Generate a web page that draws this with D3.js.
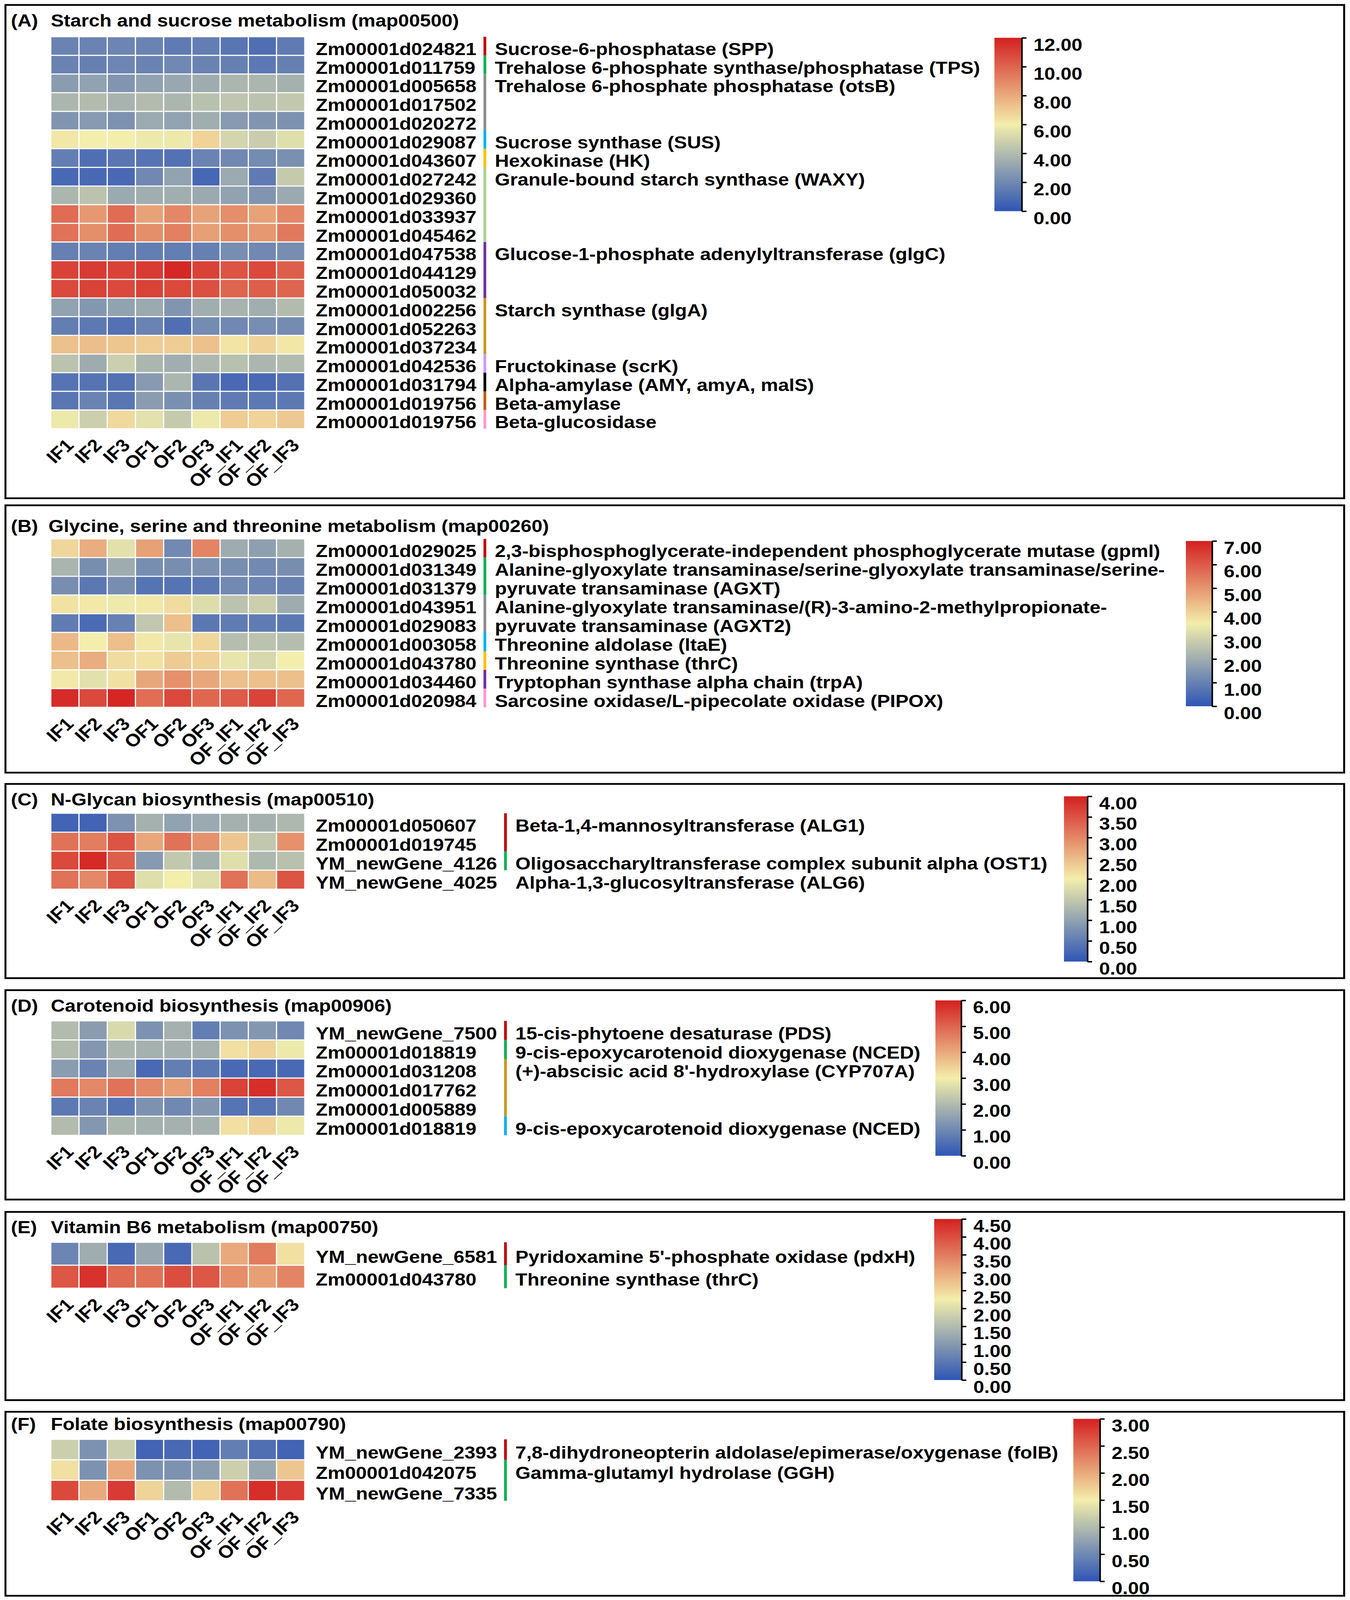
<!DOCTYPE html>
<html>
<head>
<meta charset="utf-8">
<script src="https://cdn.jsdelivr.net/npm/d3@7"></script>
<style>
  html, body { margin: 0; padding: 0; background: #fff; overflow: hidden; }
  svg { display: block; }
  text { font-family: "Liberation Sans", Arial, sans-serif; font-weight: bold; fill: #000; }
</style>
</head>
<body>
<svg id="chart"></svg>
<script>
// sample columns (same for every panel)
const samples = ["IF1", "IF2", "IF3", "OF1", "OF2", "OF3", "OF_IF1", "OF_IF2", "OF_IF3"];

// (A) Starch and sucrose metabolism
const genesA = ["Zm00001d024821", "Zm00001d011759", "Zm00001d005658", "Zm00001d017502", "Zm00001d020272",
  "Zm00001d029087", "Zm00001d043607", "Zm00001d027242", "Zm00001d029360", "Zm00001d033937", "Zm00001d045462",
  "Zm00001d047538", "Zm00001d044129", "Zm00001d050032", "Zm00001d002256", "Zm00001d052263", "Zm00001d037234",
  "Zm00001d042536", "Zm00001d031794", "Zm00001d019756", "Zm00001d019756"];
const valuesA = [
  [1.8, 1.8, 1.9, 1.8, 1.5, 1.6, 1.3, 1.0, 1.5],
  [1.8, 1.7, 1.9, 1.8, 2.0, 1.8, 1.7, 1.4, 1.7],
  [2.8, 3.0, 2.5, 3.0, 3.2, 3.4, 3.8, 3.8, 3.6],
  [3.8, 4.0, 3.7, 4.0, 3.8, 4.2, 4.4, 4.3, 4.5],
  [2.5, 2.7, 2.4, 3.3, 3.0, 3.5, 2.7, 2.5, 2.4],
  [6.2, 6.0, 6.0, 5.8, 5.8, 6.8, 5.0, 4.7, 5.4],
  [1.6, 1.0, 1.3, 1.2, 1.1, 1.8, 2.0, 2.1, 2.3],
  [0.8, 0.8, 0.8, 2.0, 3.0, 0.7, 3.3, 1.5, 4.6],
  [3.8, 4.3, 3.3, 3.5, 3.5, 3.3, 3.0, 2.5, 3.3],
  [9.8, 8.5, 9.8, 8.2, 9.0, 8.2, 8.8, 8.2, 9.0],
  [9.6, 8.8, 9.8, 8.8, 9.2, 8.3, 8.8, 8.5, 9.4],
  [1.7, 1.8, 1.6, 1.6, 1.6, 1.7, 2.2, 2.0, 2.2],
  [11.0, 11.2, 11.0, 11.2, 11.8, 11.0, 10.5, 10.8, 10.2],
  [10.8, 11.0, 10.8, 11.0, 10.8, 10.6, 10.0, 10.2, 10.0],
  [3.0, 2.6, 3.0, 3.3, 2.5, 3.5, 3.7, 3.5, 4.0],
  [1.6, 1.4, 1.1, 1.8, 1.0, 2.1, 2.0, 2.2, 2.1],
  [7.3, 7.4, 7.2, 7.0, 7.0, 7.3, 6.3, 6.8, 6.2],
  [4.3, 3.4, 4.8, 3.8, 3.5, 3.9, 4.2, 3.8, 4.0],
  [1.2, 1.2, 1.1, 2.7, 3.8, 1.3, 0.8, 0.8, 1.1],
  [1.3, 1.8, 1.3, 2.8, 2.3, 1.7, 1.5, 1.4, 1.4],
  [5.8, 4.8, 6.6, 5.5, 4.6, 5.8, 7.0, 6.8, 7.1]
];
const enzymesA = ["Sucrose-6-phosphatase (SPP)", "Trehalose 6-phosphate synthase/phosphatase (TPS)",
  "Trehalose 6-phosphate phosphatase (otsB)", "", "", "Sucrose synthase (SUS)", "Hexokinase (HK)",
  "Granule-bound starch synthase (WAXY)", "", "", "", "Glucose-1-phosphate adenylyltransferase (glgC)", "", "",
  "Starch synthase (glgA)", "", "", "Fructokinase (scrK)", "Alpha-amylase (AMY, amyA, malS)", "Beta-amylase",
  "Beta-glucosidase"];
const groupsA = [1, 1, 3, 1, 1, 4, 3, 3, 1, 1, 1, 1];
const legendA = [0, 2, 4, 6, 8, 10, 12];

// (B) Glycine, serine and threonine metabolism
const genesB = ["Zm00001d029025", "Zm00001d031349", "Zm00001d031379", "Zm00001d043951", "Zm00001d029083",
  "Zm00001d003058", "Zm00001d043780", "Zm00001d034460", "Zm00001d020984"];
const valuesB = [
  [3.9, 4.6, 3.2, 4.8, 1.2, 5.3, 2.0, 1.7, 2.1],
  [2.2, 1.3, 2.0, 1.3, 1.3, 1.4, 1.3, 1.2, 1.3],
  [1.3, 0.8, 1.3, 0.7, 0.7, 0.8, 1.2, 1.1, 1.0],
  [3.7, 3.6, 3.4, 3.6, 3.8, 3.1, 2.5, 2.8, 2.0],
  [0.9, 0.5, 1.0, 2.6, 4.3, 0.8, 0.9, 0.9, 0.8],
  [4.4, 3.5, 4.3, 3.6, 3.3, 3.9, 2.4, 2.5, 2.4],
  [4.3, 4.6, 3.8, 3.7, 4.1, 4.0, 3.3, 3.0, 3.5],
  [3.6, 3.2, 3.7, 4.7, 5.1, 4.7, 4.3, 4.3, 4.3],
  [6.8, 6.3, 6.9, 5.7, 6.3, 5.8, 6.0, 6.4, 5.8]
];
const enzymesB = ["2,3-bisphosphoglycerate-independent phosphoglycerate mutase (gpml)",
  "Alanine-glyoxylate transaminase/serine-glyoxylate transaminase/serine-", "pyruvate transaminase (AGXT)",
  "Alanine-glyoxylate transaminase/(R)-3-amino-2-methylpropionate-", "pyruvate transaminase (AGXT2)",
  "Threonine aldolase (ltaE)", "Threonine synthase (thrC)", "Tryptophan synthase alpha chain (trpA)",
  "Sarcosine oxidase/L-pipecolate oxidase (PIPOX)"];
const groupsB = [1, 2, 2, 1, 1, 1, 1];
const legendB = [0, 1, 2, 3, 4, 5, 6, 7];

// (C) N-Glycan biosynthesis
const genesC = ["Zm00001d050607", "Zm00001d019745", "YM_newGene_4126", "YM_newGene_4025"];
const valuesC = [
  [0.2, 0.2, 0.8, 1.2, 1.0, 1.1, 1.2, 1.2, 1.3],
  [3.2, 3.1, 3.5, 2.7, 3.2, 2.9, 2.4, 1.5, 2.9],
  [3.6, 3.9, 3.4, 0.9, 1.5, 1.2, 1.8, 1.3, 1.4],
  [3.2, 3.0, 3.5, 1.8, 2.0, 1.8, 3.2, 2.5, 3.5]
];
const enzymesC = ["Beta-1,4-mannosyltransferase (ALG1)", "",
  "Oligosaccharyltransferase complex subunit alpha (OST1)", "Alpha-1,3-glucosyltransferase (ALG6)"];
const groupsC = [2, 1];
const legendC = [0, 0.5, 1, 1.5, 2, 2.5, 3, 3.5, 4];

// (D) Carotenoid biosynthesis
const genesD = ["YM_newGene_7500", "Zm00001d018819", "Zm00001d031208", "Zm00001d017762", "Zm00001d005889",
  "Zm00001d018819"];
const valuesD = [
  [2.0, 1.4, 2.6, 1.2, 1.8, 0.8, 1.2, 1.3, 1.0],
  [2.0, 1.3, 1.9, 1.8, 1.8, 1.8, 3.2, 3.4, 2.9],
  [1.4, 0.9, 1.6, 0.4, 0.8, 0.7, 0.4, 0.4, 0.4],
  [4.7, 4.5, 4.8, 4.5, 4.2, 4.6, 5.5, 5.8, 5.2],
  [0.7, 0.9, 0.6, 1.2, 1.0, 1.3, 0.6, 0.6, 1.0],
  [2.0, 1.3, 1.9, 1.8, 1.8, 1.8, 3.2, 3.4, 2.9]
];
const enzymesD = ["15-cis-phytoene desaturase (PDS)", "9-cis-epoxycarotenoid dioxygenase (NCED)",
  "(+)-abscisic acid 8'-hydroxylase (CYP707A)", "", "", "9-cis-epoxycarotenoid dioxygenase (NCED)"];
const groupsD = [1, 1, 3, 1];
const legendD = [0, 1, 2, 3, 4, 5, 6];

// (E) Vitamin B6 metabolism
const genesE = ["YM_newGene_6581", "Zm00001d043780"];
const valuesE = [
  [0.7, 1.3, 0.3, 1.2, 0.3, 1.6, 3.0, 3.5, 2.4],
  [3.9, 4.3, 3.7, 3.6, 4.0, 3.9, 3.3, 3.1, 3.4]
];
const enzymesE = ["Pyridoxamine 5'-phosphate oxidase (pdxH)", "Threonine synthase (thrC)"];
const groupsE = [1, 1];
const legendE = [0, 0.5, 1, 1.5, 2, 2.5, 3, 3.5, 4, 4.5];

// (F) Folate biosynthesis
const genesF = ["YM_newGene_2393", "Zm00001d042075", "YM_newGene_7335"];
const valuesF = [
  [1.2, 0.6, 1.2, 0.15, 0.2, 0.15, 0.4, 0.25, 0.15],
  [1.6, 0.6, 2.0, 0.6, 0.6, 0.7, 1.2, 0.8, 1.8],
  [2.7, 2.0, 2.8, 1.7, 1.0, 1.7, 2.4, 2.9, 2.8]
];
const enzymesF = ["7,8-dihydroneopterin aldolase/epimerase/oxygenase (folB)", "Gamma-glutamyl hydrolase (GGH)", ""];
const groupsF = [1, 2];
const legendF = [0, 0.5, 1, 1.5, 2, 2.5, 3];

// layout of the six panels
const panels = [
  { tag: "(A)", title: "Starch and sucrose metabolism (map00500)", genes: genesA, values: valuesA,
    enzymes: enzymesA, groups: groupsA, ticks: legendA, box: [14, 1411], titleY: 58, titleX: 130,
    heat: [104, 1214], leg: [2545, 70, 107, 598],
    barColors: ["#c00000", "#00b050", "#8c8c8c", "#00b0f0", "#ffc000", "#a9d18e", "#7030a0", "#c8961e", "#cc99ff", "#000000", "#c55a11", "#ff99cc"] },
  { tag: "(B)", title: "Glycine, serine and threonine metabolism (map00260)", genes: genesB, values: valuesB,
    enzymes: enzymesB, groups: groupsB, ticks: legendB, box: [1431, 2188], titleY: 1489, titleX: 124,
    heat: [1526, 2003], leg: [3035, 67, 1532, 2000],
    barColors: ["#c00000", "#00b050", "#8c8c8c", "#00b0f0", "#ffc000", "#7030a0", "#ff99cc"] },
  { tag: "(C)", title: "N-Glycan biosynthesis (map00510)", genes: genesC, values: valuesC,
    enzymes: enzymesC, groups: groupsC, ticks: legendC, box: [2220, 2770], titleY: 2264, titleX: 130,
    heat: [2303, 2518], leg: [2723, 60, 2255, 2723],
    barColors: ["#c00000", "#00b050"] },
  { tag: "(D)", title: "Carotenoid biosynthesis (map00906)", genes: genesD, values: valuesD,
    enzymes: enzymesD, groups: groupsD, ticks: legendD, box: [2804, 3397], titleY: 2848, titleX: 130,
    heat: [2891, 3215], leg: [2394, 66, 2833, 3273],
    barColors: ["#c00000", "#00b050", "#c8961e", "#00b0f0"] },
  { tag: "(E)", title: "Vitamin B6 metabolism (map00750)", genes: genesE, values: valuesE,
    enzymes: enzymesE, groups: groupsE, ticks: legendE, box: [3432, 3965], titleY: 3475, titleX: 130,
    heat: [3518, 3648], leg: [2391, 70, 3452, 3908],
    barColors: ["#c00000", "#00b050"] },
  { tag: "(F)", title: "Folate biosynthesis (map00790)", genes: genesF, values: valuesF,
    enzymes: enzymesF, groups: groupsF, ticks: legendF, box: [3998, 4519], titleY: 4033, titleX: 130,
    heat: [4076, 4250], leg: [2747, 68, 4018, 4478],
    barColors: ["#c00000", "#00b050"] }
];

const W = 3455, H = 4531, FS = 50;
// draw in a fixed 3455x4531 coordinate system, stretched to whatever the viewport really is
const svg = d3.select("#chart")
  .attr("viewBox", `0 0 ${W} ${H}`)
  .attr("preserveAspectRatio", "none")
  .attr("width", window.innerWidth || W)
  .attr("height", window.innerHeight || H);
const defs = svg.append("defs");

const x = d3.scaleBand().domain(samples).range([130, 780]);

panels.forEach((p, pi) => {
  const g = svg.append("g");
  const vmax = d3.max(p.ticks);
  const color = d3.scaleLinear()
    .domain([0, vmax / 2, vmax])
    .range(["#2f55b5", "#f3eeab", "#d42020"])
    .clamp(true);

  // frame
  g.append("rect")
    .attr("x", 14).attr("y", p.box[0])
    .attr("width", 3426).attr("height", p.box[1] - p.box[0])
    .attr("fill", "none").attr("stroke", "#000").attr("stroke-width", 5);

  // title
  g.append("text").attr("x", 28).attr("y", p.titleY)
    .attr("dominant-baseline", "central").style("font-size", FS + "px").text(p.tag);
  g.append("text").attr("x", p.titleX).attr("y", p.titleY)
    .attr("dominant-baseline", "central").style("font-size", FS + "px").text(p.title);

  const y = d3.scaleBand().domain(d3.range(p.genes.length)).range(p.heat);

  // heatmap cells
  const cells = [];
  p.values.forEach((row, i) => row.forEach((v, j) => cells.push({ i, s: samples[j], v })));
  g.selectAll("rect.cell").data(cells).join("rect")
    .attr("class", "cell")
    .attr("x", d => x(d.s)).attr("y", d => y(d.i))
    .attr("width", x.bandwidth()).attr("height", y.bandwidth())
    .attr("fill", d => color(d.v))
    .attr("stroke", "#fff").attr("stroke-width", 3);

  // gene labels
  const labelY = i => y(i) + y.bandwidth() / 2 + 8;
  const labels = g.selectAll("text.gene").data(p.genes).join("text")
    .attr("class", "gene")
    .attr("x", 808).attr("y", (d, i) => labelY(i))
    .attr("dominant-baseline", "central")
    .style("font-size", FS + "px")
    .text(d => d);
  const maxW = d3.max(labels.nodes(), n => n.getComputedTextLength());
  const barX = 808 + maxW + 18;

  // coloured group bars
  let start = 0;
  p.groups.forEach((n, k) => {
    g.append("rect")
      .attr("x", barX).attr("y", y(start))
      .attr("width", 7).attr("height", y.step() * n)
      .attr("fill", p.barColors[k]);
    start += n;
  });

  // enzyme names
  g.selectAll("text.enz").data(p.enzymes).join("text")
    .attr("class", "enz")
    .attr("x", barX + 29).attr("y", (d, i) => labelY(i))
    .attr("dominant-baseline", "central")
    .style("font-size", FS + "px")
    .text(d => d);

  // sample labels
  g.selectAll("text.sample").data(samples).join("text")
    .attr("class", "sample")
    .attr("text-anchor", "end")
    .attr("transform", d => `translate(${x(d) + x.bandwidth() / 2 + 25},${p.heat[1] + 50}) rotate(-45)`)
    .style("font-size", FS + "px")
    .text(d => d);

  // colour legend
  const [lx, lw, ly0, ly1] = p.leg;
  const gid = "grad" + pi;
  const grad = defs.append("linearGradient").attr("id", gid)
    .attr("x1", 0).attr("y1", 1).attr("x2", 0).attr("y2", 0);
  d3.range(0, 1.0001, 0.1).forEach(t => {
    grad.append("stop").attr("offset", t).attr("stop-color", color(t * vmax));
  });
  g.append("rect").attr("x", lx).attr("y", ly0).attr("width", lw).attr("height", ly1 - ly0)
    .attr("fill", `url(#${gid})`);
  const ls = d3.scaleLinear().domain([0, vmax]).range([ly1, ly0]);
  const ax = g.append("g").attr("transform", `translate(${lx + lw},0)`)
    .call(d3.axisRight(ls).tickValues(p.ticks).tickFormat(d3.format(".2f")).tickSize(12).tickSizeOuter(0).tickPadding(18));
  ax.select(".domain").attr("stroke", "#000").attr("stroke-width", 4);
  ax.selectAll(".tick line").attr("stroke", "#000").attr("stroke-width", 4);
  ax.selectAll(".tick text")
    .attr("transform", "translate(0,20)")
    .style("font-size", FS + "px")
    .style("font-family", "'Liberation Sans', Arial, sans-serif")
    .style("font-weight", "bold")
    .attr("fill", "#000");
});
</script>
</body>
</html>
